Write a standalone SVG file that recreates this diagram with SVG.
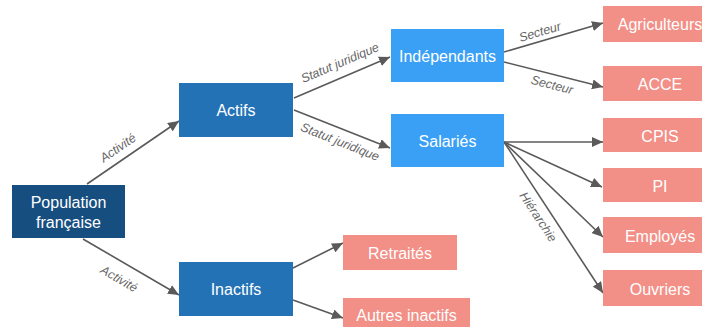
<svg xmlns="http://www.w3.org/2000/svg" width="702" height="327" viewBox="0 0 702 327">
<defs>
<style>
.box text{font-family:"Liberation Sans",Arial,sans-serif;font-size:16px;fill:#fff;text-anchor:middle}
.dark{fill:#174e80}
.mid{fill:#2472b6}
.light{fill:#3aa0f6}
.salmon{fill:#f28f87}
.edge{stroke:#5a5a5a;stroke-width:1.6;fill:none;marker-end:url(#arr)}
.lbl{font-family:"Liberation Sans",Arial,sans-serif;font-size:12.5px;font-style:italic;fill:#666;text-anchor:middle}
</style>
<marker id="arr" markerUnits="userSpaceOnUse" markerWidth="12" markerHeight="10" refX="11" refY="5" orient="auto">
<path d="M0,0 L11,5 L0,10 z" fill="#5a5a5a"/>
</marker>
</defs>
<rect width="702" height="327" fill="#fff"/>
<g id="connectors">
<line class="edge" x1="87" y1="184" x2="179" y2="121"/>
<line class="edge" x1="83" y1="239" x2="179" y2="295"/>
<line class="edge" x1="294" y1="98" x2="390" y2="57"/>
<line class="edge" x1="294" y1="110" x2="390" y2="148"/>
<line class="edge" x1="504" y1="52" x2="603" y2="23"/>
<line class="edge" x1="504" y1="62" x2="603" y2="87"/>
<line class="edge" x1="504" y1="142" x2="603" y2="142"/>
<line class="edge" x1="504" y1="142" x2="602" y2="187"/>
<line class="edge" x1="504" y1="142" x2="603" y2="237"/>
<line class="edge" x1="504" y1="142" x2="603" y2="293"/>
<line class="edge" x1="293" y1="268" x2="343" y2="243"/>
<line class="edge" x1="293" y1="300" x2="343" y2="318"/>
<text class="lbl" transform="translate(118,148) rotate(-34.4)" y="4">Activité</text>
<text class="lbl" transform="translate(119,279) rotate(30.3)" y="4">Activité</text>
<text class="lbl" transform="translate(340,63) rotate(-23.1)" y="4">Statut juridique</text>
<text class="lbl" transform="translate(340,142) rotate(21.6)" y="4">Statut juridique</text>
<text class="lbl" transform="translate(540,32) rotate(-16.3)" y="4">Secteur</text>
<text class="lbl" transform="translate(552,85) rotate(14.2)" y="4">Secteur</text>
<text class="lbl" transform="translate(538,217) rotate(56.7)" y="4">Hiérarchie</text>
</g>
<g id="population" class="box"><rect class="dark" x="12" y="185" width="113" height="53"/><text x="68.5" y="207.5">Population</text><text x="68.5" y="228">française</text></g>
<g id="actifs" class="box"><rect class="mid" x="179" y="83" width="114" height="54"/><text x="236" y="116">Actifs</text></g>
<g id="inactifs" class="box"><rect class="mid" x="179" y="262" width="114" height="54"/><text x="236" y="295">Inactifs</text></g>
<g id="independants" class="box"><rect class="light" x="391" y="29" width="113" height="53"/><text x="447.5" y="61.5">Indépendants</text></g>
<g id="salaries" class="box"><rect class="light" x="391" y="114" width="113" height="53"/><text x="447.5" y="146.5">Salariés</text></g>
<g id="agriculteurs" class="box"><rect class="salmon" x="603" y="6" width="114" height="36"/><text x="660" y="30">Agriculteurs</text></g>
<g id="acce" class="box"><rect class="salmon" x="603" y="66" width="114" height="35"/><text x="660" y="89.5">ACCE</text></g>
<g id="cpis" class="box"><rect class="salmon" x="603" y="118" width="114" height="34"/><text x="660" y="141.5">CPIS</text></g>
<g id="pi" class="box"><rect class="salmon" x="603" y="168" width="114" height="34"/><text x="660" y="191.5">PI</text></g>
<g id="employes" class="box"><rect class="salmon" x="603" y="217" width="114" height="36"/><text x="660" y="241.5">Employés</text></g>
<g id="ouvriers" class="box"><rect class="salmon" x="603" y="270" width="114" height="36"/><text x="660" y="294.5">Ouvriers</text></g>
<g id="retraites" class="box"><rect class="salmon" x="343" y="235" width="114" height="35"/><text x="400" y="258.5">Retraités</text></g>
<g id="autres" class="box"><rect class="salmon" x="343" y="298" width="127" height="35"/><text x="406.5" y="321">Autres inactifs</text></g>
</svg>
